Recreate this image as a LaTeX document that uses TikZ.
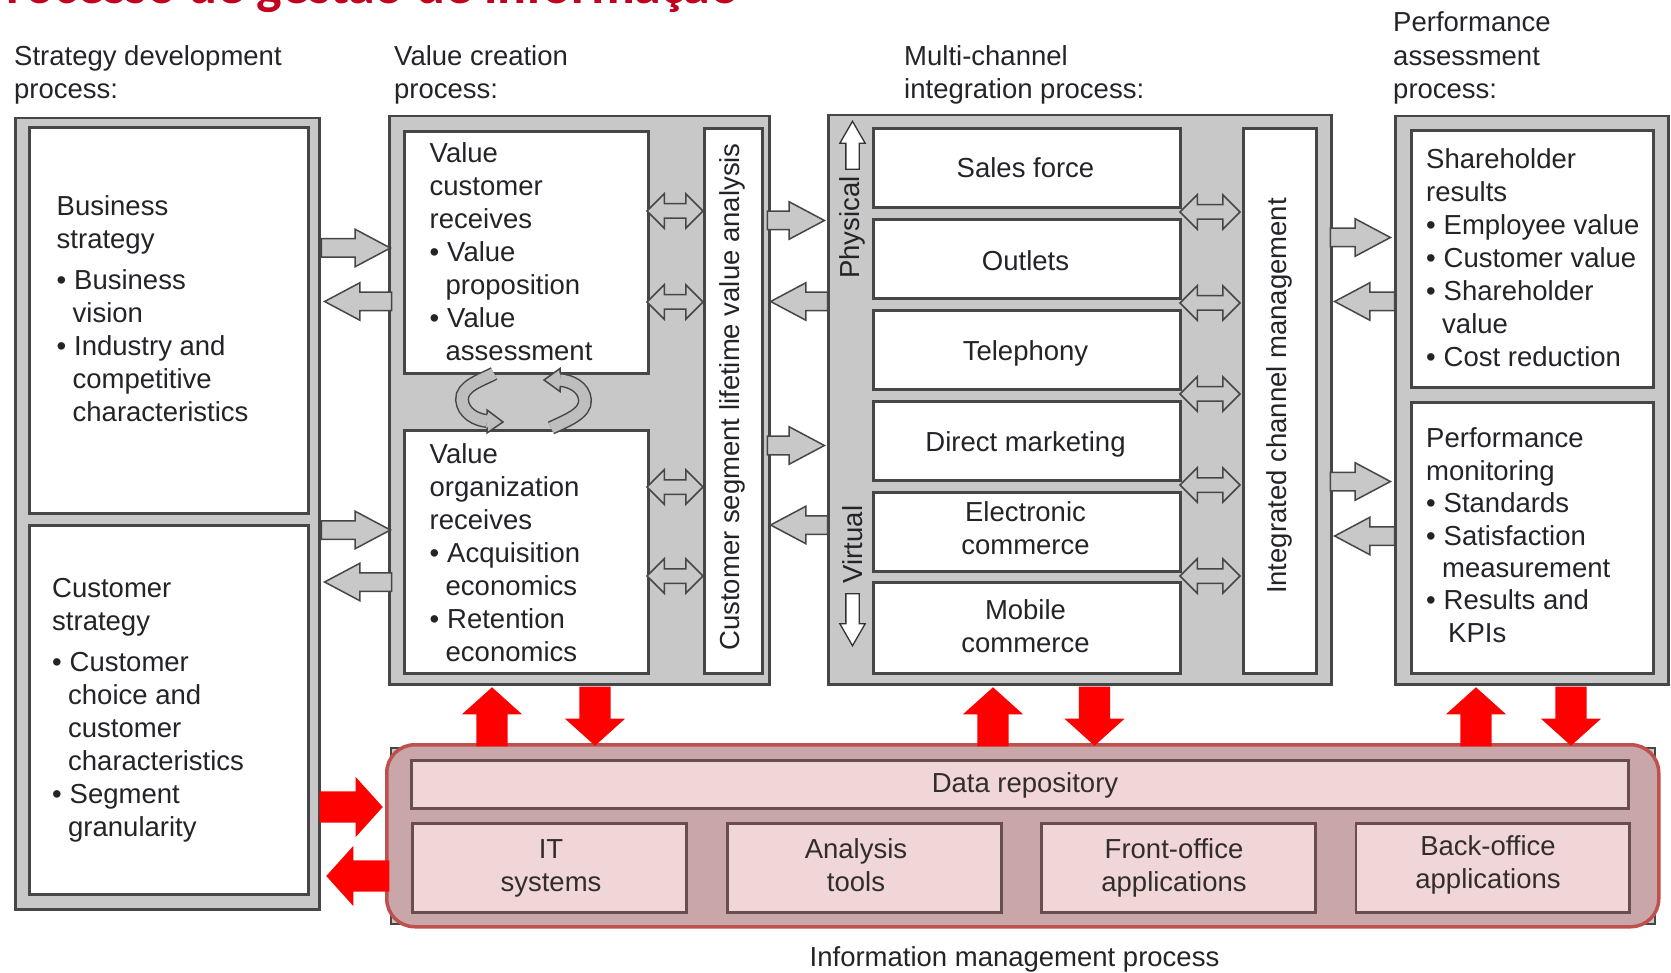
\documentclass[tikz,border=0pt]{standalone}
\usepackage{fontspec}
\setmainfont{Liberation Sans}
\newfontfamily\titlefont{Carlito}
\usetikzlibrary{shapes.arrows}
\definecolor{colgray}{RGB}{200,200,200}
\definecolor{edgegray}{RGB}{70,70,70}
\definecolor{txtcol}{RGB}{35,35,40}
\definecolor{imfill}{RGB}{201,166,168}
\definecolor{imedge}{RGB}{192,80,77}
\definecolor{imboxfill}{RGB}{241,214,215}
\definecolor{imboxedge}{RGB}{105,78,80}
\definecolor{imtxt}{RGB}{50,45,45}
\definecolor{titlered}{RGB}{192,0,30}
\definecolor{arrowred}{RGB}{255,0,0}
\definecolor{curlfill}{RGB}{190,190,190}
\newcommand\bodyfont{\fontsize{27.5pt}{33pt}\selectfont}
\newcommand\blk[2][33pt]{\vtop{\baselineskip=#1\lineskiplimit=-100pt\lineskip=0pt #2}}
\newcommand\TL[1]{\hbox{#1}}
\newcommand\BL[1]{\hbox{\hbox to 17.5pt{\textbullet\hss}#1}}
\newcommand\CL[1]{\hbox{\kern16pt #1}}
\newcommand\CT[1]{\hbox to 0pt{\hss #1\hss}}
\begin{document}
\begin{tikzpicture}[x=1pt,y=-1pt,
  colbox/.style={draw=edgegray, line width=2.5pt, fill=colgray, inner sep=0pt, anchor=north west},
  whitebox/.style={draw=edgegray, line width=3pt, fill=white, inner sep=0pt, anchor=north west},
  txt/.style={anchor=base west, inner sep=0pt, font=\bodyfont, text=txtcol},
  ctxt/.style={anchor=base, inner sep=0pt, font=\bodyfont, text=txtcol},
  rtxt/.style={rotate=90, inner sep=0pt, font=\bodyfont, text=txtcol},
  grayarrow/.style={single arrow, draw=edgegray, fill=colgray, line width=1.5pt, inner xsep=0pt, inner ysep=8.5pt, single arrow head extend=9.5pt, single arrow tip angle=56, anchor=tip},
  grayleft/.style={grayarrow, shape border rotate=180},
  dblarrow/.style={double arrow, draw=edgegray, fill=colgray, line width=1.5pt, inner xsep=0pt, inner ysep=6.5pt, double arrow head extend=10pt, double arrow tip angle=90},
  redarrow/.style={single arrow, fill=arrowred, draw=none, inner xsep=0pt, inner ysep=15.5pt, single arrow head extend=14.5pt, single arrow tip angle=96, minimum height=59pt, anchor=tip},
  redup/.style={redarrow, inner xsep=15.5pt, inner ysep=0pt, shape border rotate=90},
  reddown/.style={redarrow, inner xsep=15.5pt, inner ysep=0pt, shape border rotate=270},
  pvarrow/.style={single arrow, draw=black!80, fill=white, line width=1.3pt, inner xsep=6pt, inner ysep=0pt, single arrow head extend=6pt, single arrow tip angle=60, anchor=tip},
  imbox/.style={draw=imboxedge, line width=2.5pt, fill=imboxfill, inner sep=0pt, anchor=north west},
  imtext/.style={anchor=base, inner sep=0pt, font=\bodyfont, text=imtxt},
  curl/.style={draw=edgegray, line width=1.5pt, double=curlfill, double distance=11pt},
  curlhead/.style={draw=edgegray, line width=1.5pt, fill=curlfill},
]
\useasboundingbox (0,0) rectangle (1671,973);
\clip (0,0) rectangle (1671,973);

% title (cut off at the top in the reference)
\node[anchor=base west, inner sep=0pt, text=titlered, font=\titlefont\bfseries\fontsize{54pt}{60pt}\selectfont] (title) at (-22,4) {Processo de gestão de informação};

% headers
\node[txt] (h1) at (14,66) {\blk{\TL{Strategy development}\TL{process:}}};
\node[txt] (h2) at (394,66) {\blk{\TL{Value creation}\TL{process:}}};
\node[txt] (h3) at (904,66) {\blk{\TL{Multi-channel}\TL{integration process:}}};
\node[txt] (h4) at (1393,32) {\blk[33.5pt]{\TL{Performance}\TL{assessment}\TL{process:}}};

% column 1
\node[colbox, minimum width=304pt, minimum height=791pt] (c1) at (14,117) {};
\node[whitebox, minimum width=279pt, minimum height=386pt] (c1a) at (28,126) {};
\node[whitebox, minimum width=279pt, minimum height=369pt] (c1b) at (28,524) {};
\node[txt] (t1a) at (56.5,215.5) {\blk{\TL{Business}\TL{strategy}\vskip8pt\BL{Business}\CL{vision}\BL{Industry and}\CL{competitive}\CL{characteristics}}};
\node[txt] (t1b) at (52,597) {\blk{\TL{Customer}\TL{strategy}\vskip8pt\BL{Customer}\CL{choice and}\CL{customer}\CL{characteristics}\BL{Segment}\CL{granularity}}};

% column 2
\node[colbox, minimum width=380pt, minimum height=568pt] (c2) at (388,115) {};
\node[whitebox, minimum width=244pt, minimum height=242pt] (c2a) at (403,130) {};
\node[whitebox, minimum width=244pt, minimum height=242.5pt] (c2b) at (403,429.5) {};
\node[whitebox, minimum width=58pt, minimum height=545pt] (c2v) at (703,127) {};
\node[txt] (t2a) at (429.5,163) {\blk{\TL{Value}\TL{customer}\TL{receives}\BL{Value}\CL{proposition}\BL{Value}\CL{assessment}}};
\node[txt] (t2b) at (429.5,463.5) {\blk{\TL{Value}\TL{organization}\TL{receives}\BL{Acquisition}\CL{economics}\BL{Retention}\CL{economics}}};
\node[rtxt] (t2v) at (732,397) {Customer segment lifetime value analysis};

% curl arrows between the two value boxes
\draw[curl] (494,373.5) .. controls (482,380) and (461,386) .. (462,400) .. controls (463,413) and (476,420) .. (487,421);
\filldraw[curlhead] (487,414.5) -- (487,410) -- (503,422) -- (487,433) -- (487,427.5);
\draw[curl] (551,428) .. controls (565,421) and (586,414) .. (585,400) .. controls (584,387) and (571,381) .. (560,380);
\filldraw[curlhead] (560,373.5) -- (560,368.5) -- (544,380) -- (560,391.5) -- (560,386.5);

% column 3
\node[colbox, minimum width=503pt, minimum height=569pt] (c3) at (827,114) {};
\node[whitebox, minimum width=307pt, minimum height=79pt] (s1) at (872,127) {};
\node[whitebox, minimum width=307pt, minimum height=79pt] (s2) at (872,218) {};
\node[whitebox, minimum width=307pt, minimum height=79pt] (s3) at (872,309) {};
\node[whitebox, minimum width=307pt, minimum height=79pt] (s4) at (872,400) {};
\node[whitebox, minimum width=307pt, minimum height=79pt] (s5) at (872,491) {};
\node[whitebox, minimum width=307pt, minimum height=91pt] (s6) at (872,581) {};
\node[whitebox, minimum width=73.5pt, minimum height=545pt] (c3v) at (1241.5,127) {};
\node[ctxt] (ch1) at (1025.5,178) {Sales force};
\node[ctxt] (ch2) at (1025.5,271) {Outlets};
\node[ctxt] (ch3) at (1025.5,361) {Telephony};
\node[ctxt] (ch4) at (1025.5,452) {Direct marketing};
\node[ctxt] (ch5) at (1025.5,521) {\blk{\CT{Electronic}\CT{commerce}}};
\node[ctxt] (ch6) at (1025.5,619) {\blk{\CT{Mobile}\CT{commerce}}};
\node[rtxt] (t3v) at (1279,396) {Integrated channel management};
\node[rtxt] (phys) at (852.5,227.5) {Physical};
\node[rtxt] (virt) at (852.5,544.5) {Virtual};
\node[pvarrow, minimum height=48pt, shape border rotate=90] (pup) at (852.5,120) {};
\node[pvarrow, minimum height=52pt, shape border rotate=270] (vdown) at (852.5,647) {};

% column 4
\node[colbox, minimum width=273pt, minimum height=568pt] (c4) at (1394,115) {};
\node[whitebox, minimum width=242pt, minimum height=257pt] (c4a) at (1410,129) {};
\node[whitebox, minimum width=242pt, minimum height=271pt] (c4b) at (1410,401) {};
\node[txt] (t4a) at (1426,168.5) {\blk{\TL{Shareholder}\TL{results}\BL{Employee value}\BL{Customer value}\BL{Shareholder}\CL{value}\BL{Cost reduction}}};
\node[txt] (t4b) at (1426,447.5) {\blk[32.5pt]{\TL{Performance}\TL{monitoring}\BL{Standards}\BL{Satisfaction}\CL{measurement}\BL{Results and}\hbox{\kern22pt KPIs}}};

% double arrows inside columns 2 and 3
\foreach \yy [count=\i] in {211,302,487,576}
  \node[dblarrow, minimum height=56pt] (d2\i) at (675,\yy) {};
\foreach \yy [count=\i] in {212,303,394,485,576}
  \node[dblarrow, minimum height=60pt] (d3\i) at (1210,\yy) {};

% gray arrows between columns
\node[grayarrow, minimum height=69pt] (a12r1) at (392,248) {};
\node[grayleft, minimum height=67pt] (a12l1) at (323,301.5) {};
\node[grayarrow, minimum height=69pt] (a12r2) at (392,530) {};
\node[grayleft, minimum height=67pt] (a12l2) at (323,582) {};
\node[grayarrow, minimum height=57pt] (a23r1) at (826,220.5) {};
\node[grayleft, minimum height=57pt] (a23l1) at (769,301.5) {};
\node[grayarrow, minimum height=57pt] (a23r2) at (826,445.5) {};
\node[grayleft, minimum height=57pt] (a23l2) at (769,525) {};
\node[grayarrow, minimum height=60pt] (a34r1) at (1392,237.5) {};
\node[grayleft, minimum height=60pt] (a34l1) at (1333,301.5) {};
\node[grayarrow, minimum height=60pt] (a34r2) at (1392,481.5) {};
\node[grayleft, minimum height=60pt] (a34l2) at (1333,536) {};

% information management block
\node[draw=edgegray, line width=2pt, fill=colgray, inner sep=0pt, anchor=north west, minimum width=1264pt, minimum height=176pt] (imback) at (390,747) {};
\node[draw=imedge, line width=3.5pt, fill=imfill, rounded corners=28pt, inner sep=0pt, anchor=north west, minimum width=1272pt, minimum height=182pt] (im) at (385,743) {};
\node[imbox, minimum width=1217pt, minimum height=48pt] (drbox) at (410,759) {};
\node[imbox, minimum width=274pt, minimum height=89pt] (itbox) at (411,822) {};
\node[imbox, minimum width=274pt, minimum height=89pt] (anbox) at (726,822) {};
\node[imbox, minimum width=274pt, minimum height=89pt] (frbox) at (1040,822) {};
\node[imbox, minimum width=273.5pt, minimum height=89pt] (bkbox) at (1354.5,822) {};
\node[imtext] (dr) at (1025,792) {Data repository};
\node[imtext] (itt) at (551,858) {\blk{\CT{IT}\CT{systems}}};
\node[imtext] (ant) at (856,858) {\blk{\CT{Analysis}\CT{tools}}};
\node[imtext] (frt) at (1174,858) {\blk{\CT{Front-office}\CT{applications}}};
\node[imtext] (bkt) at (1488,855) {\blk{\CT{Back-office}\CT{applications}}};
\node[ctxt] (imlabel) at (1014.5,966) {Information management process};

% red arrows
\node[redup] (ru1) at (492,687) {};
\node[reddown] (rd1) at (595,746) {};
\node[redup] (ru2) at (993,687) {};
\node[reddown] (rd2) at (1094.5,746) {};
\node[redup] (ru3) at (1476,687) {};
\node[reddown] (rd3) at (1571,746) {};
\node[redarrow, minimum height=63pt] (rr) at (383,807) {};
\node[redarrow, minimum height=63pt, shape border rotate=180] (rl) at (326,876) {};
\end{tikzpicture}
\end{document}
